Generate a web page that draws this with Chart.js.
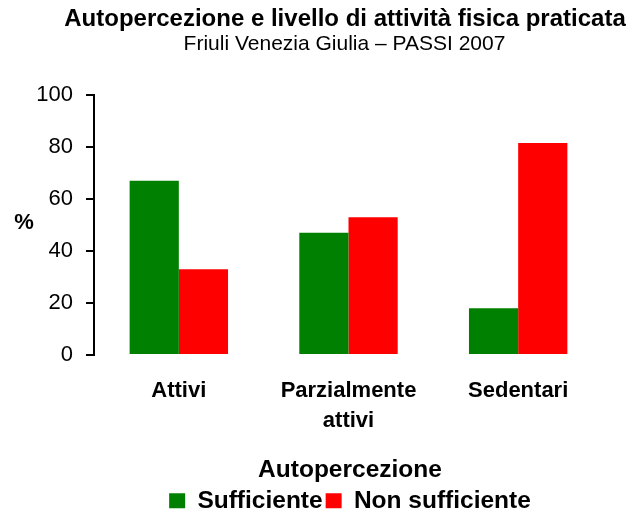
<!DOCTYPE html>
<html>
<head>
<meta charset="utf-8">
<script src="https://cdn.jsdelivr.net/npm/chart.js@4/dist/chart.umd.min.js"></script>
<style>
html,body{margin:0;padding:0;background:#fff;}
#wrap{width:635px;height:509px;}
</style>
</head>
<body>
<div id="wrap"><canvas id="c" width="635" height="509"></canvas></div>
<script>
const categories = ['Attivi', ['Parzialmente', 'attivi'], 'Sedentari'];
const sufficiente = [67, 47, 18];
const nonSufficiente = [33, 53, 81.5];
const yTicks = [0, 20, 40, 60, 80, 100];
const titleText = 'Autopercezione e livello di attività fisica praticata';
const subtitleText = 'Friuli Venezia Giulia – PASSI 2007';
const yAxisLabel = '%';

Chart.defaults.font.family = '"Liberation Sans", Arial, sans-serif';
Chart.defaults.color = '#000';

const headerText = {
  id: 'headerText',
  afterDraw(chart) {
    const ctx = chart.ctx;
    ctx.save();
    ctx.fillStyle = '#000';
    ctx.textAlign = 'center';
    ctx.textBaseline = 'middle';
    ctx.font = 'bold 24px "Liberation Sans", Arial, sans-serif';
    ctx.fillText(titleText, 345, 19.5);
    ctx.font = '21px "Liberation Sans", Arial, sans-serif';
    ctx.fillText(subtitleText, 344.5, 44.5);
    ctx.font = 'bold 22px "Liberation Sans", Arial, sans-serif';
    ctx.fillText(yAxisLabel, 24, 223);
    ctx.restore();
  }
};

new Chart(document.getElementById('c'), {
  type: 'bar',
  data: {
    labels: categories,
    datasets: [
      { label: 'Sufficiente', data: sufficiente, backgroundColor: '#008000', borderWidth: 0 },
      { label: 'Non sufficiente', data: nonSufficiente, backgroundColor: '#FF0000', borderWidth: 0 }
    ]
  },
  options: {
    responsive: false,
    animation: false,
    devicePixelRatio: 1,
    layout: { padding: { left: 35, right: -30, top: 95, bottom: -14 } },
    datasets: { bar: { categoryPercentage: 0.58, barPercentage: 1.0 } },
    scales: {
      x: {
        grid: { display: false },
        border: { display: false },
        ticks: {
          font: { size: 22, weight: 'bold', lineHeight: 30 / 22 },
          color: '#000',
          padding: 13,
          maxRotation: 0,
          autoSkip: false
        }
      },
      y: {
        min: 0,
        max: 100,
        afterFit(scale) { scale.width = 59; },
        afterBuildTicks(scale) { scale.ticks = yTicks.map(v => ({ value: v })); },
        grid: { display: true, drawOnChartArea: false, drawTicks: true, tickLength: 8, color: '#000', lineWidth: 2 },
        border: { display: true, color: '#000', width: 2 },
        ticks: {
          font: { size: 22 },
          color: '#000',
          padding: 13
        }
      },
      yr: {
        type: 'linear',
        position: 'right',
        min: 0,
        max: 100,
        afterFit(scale) { scale.width = 62; },
        grid: { display: false },
        border: { display: false },
        ticks: { display: false }
      }
    },
    plugins: {
      title: { display: false },
      legend: {
        display: true,
        position: 'bottom',
        title: {
          display: true,
          text: 'Autopercezione',
          font: { size: 24.5, weight: 'bold' },
          color: '#000',
          padding: { top: 9, bottom: -2 }
        },
        labels: {
          boxWidth: 16,
          boxHeight: 15,
          padding: 3,
          font: { size: 24.5, weight: 'bold' },
          color: '#000'
        }
      },
      tooltip: { enabled: false }
    }
  },
  plugins: [headerText]
});
</script>
</body>
</html>
